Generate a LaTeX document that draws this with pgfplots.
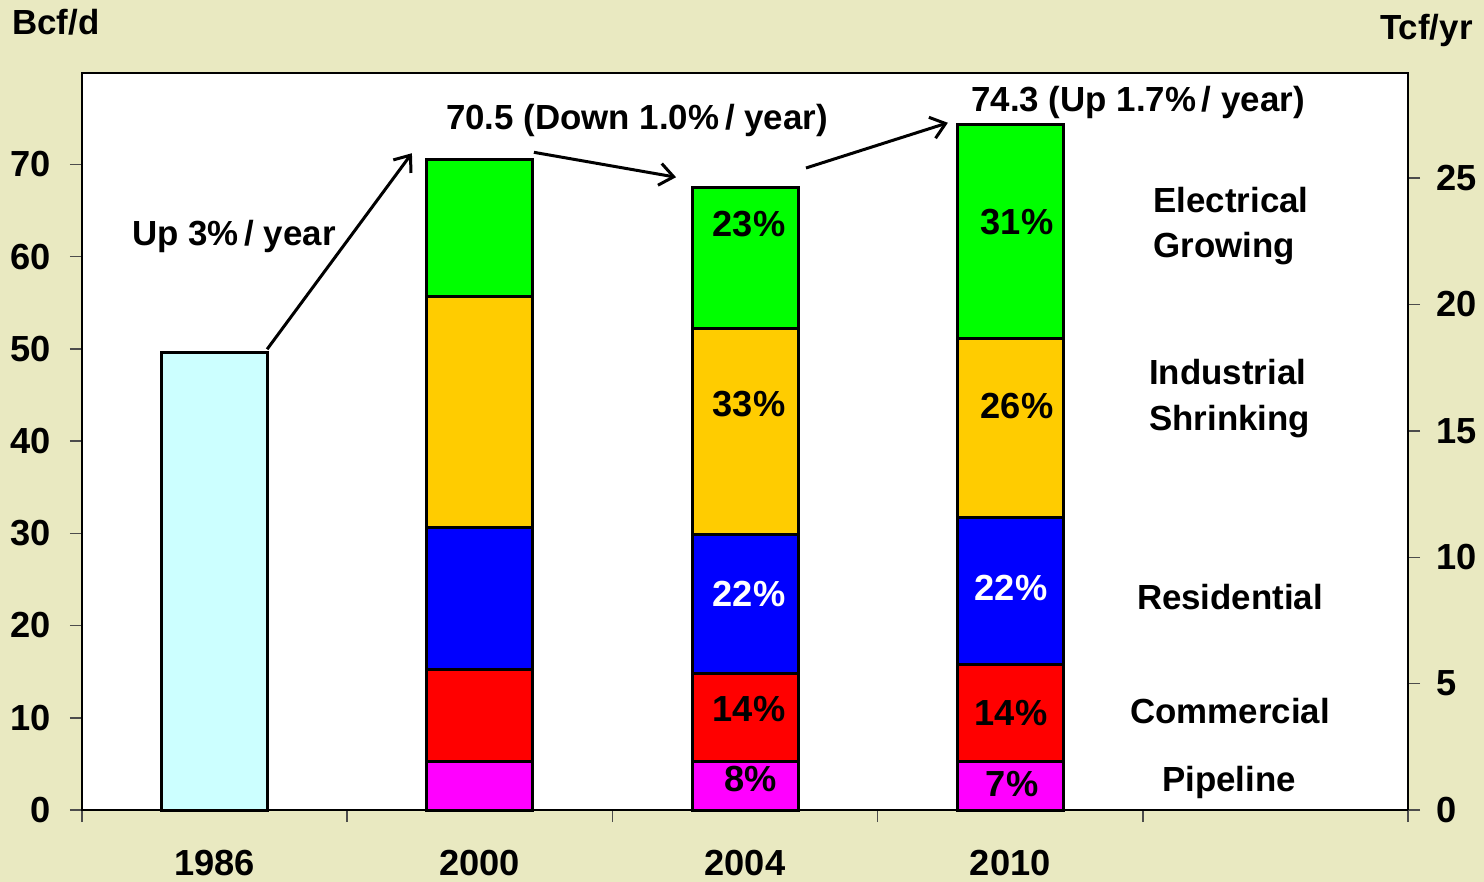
\documentclass[border=0pt]{standalone}
\usepackage{fontspec}
\setmainfont{Liberation Sans}
\usepackage{pgfplots}
\pgfplotsset{compat=1.18}
\usetikzlibrary{arrows.meta}
\definecolor{bgc}{RGB}{233,233,193}
\definecolor{c86}{RGB}{204,255,255}
\definecolor{cpipe}{RGB}{255,0,255}
\definecolor{ccom}{RGB}{255,0,0}
\definecolor{cres}{RGB}{0,0,255}
\definecolor{cind}{RGB}{255,204,0}
\definecolor{cele}{RGB}{0,255,0}
\newcommand\fs{\fontsize{17.5}{23}\selectfont\bfseries}
\newcommand\fsb{\fontsize{18.2}{23}\selectfont\bfseries}
\begin{document}
\begin{tikzpicture}
\fill[bgc] (-41bp,-36bp) rectangle (701bp,405bp);
\begin{axis}[at={(0,0)}, anchor=south west, scale only axis,
  width=663bp, height=368.5bp,
  xmin=0, xmax=5, ymin=0, ymax=79.9,
  axis background/.style={fill=white},
  ybar stacked, bar width=53bp,
  xtick={0,1,2,3,4,5}, xticklabels={},
  extra x ticks={0.5,1.5,2.5,3.5},
  extra x tick labels={1986,2000,2004,2010},
  extra x tick style={major tick length=0pt},
  ytick={0,10,...,70},
  xtick pos=bottom, ytick pos=left,
  tick align=outside, major tick length=6bp,
  tick style={black!70, line width=0.75bp},
  axis line style={black, line width=0.75bp},
  ticklabel style={font=\fsb},
  /pgf/number format/assume math mode=true,
  xticklabel style={yshift=-16.5bp},
  yticklabel style={xshift=-6bp},
  clip=false,
  every axis plot/.append style={draw=black, line width=1.5bp},
]
\addplot[fill=c86] coordinates {(0.5,49.6) (1.5,0) (2.5,0) (3.5,0)};
\addplot[fill=cpipe] coordinates {(0.5,0) (1.5,5.3) (2.5,5.3) (3.5,5.3)};
\addplot[fill=ccom] coordinates {(0.5,0) (1.5,9.9) (2.5,9.5) (3.5,10.5)};
\addplot[fill=cres] coordinates {(0.5,0) (1.5,15.4) (2.5,15.1) (3.5,15.9)};
\addplot[fill=cind] coordinates {(0.5,0) (1.5,25.1) (2.5,22.3) (3.5,19.4)};
\addplot[fill=cele] coordinates {(0.5,0) (1.5,14.8) (2.5,15.3) (3.5,23.2)};
\end{axis}
\begin{axis}[at={(0,0)}, anchor=south west, scale only axis,
  width=663bp, height=368.5bp,
  xmin=0, xmax=5, ymin=0, ymax=29.16,
  hide x axis, axis y line*=right,
  ytick={0,5,...,25},
  tick align=outside, major tick length=6bp,
  tick style={black!70, line width=0.75bp},
  axis line style={black, line width=0.75bp},
  ticklabel style={font=\fsb},
  yticklabel style={xshift=4.5bp},
  /pgf/number format/assume math mode=true,
]
\addplot[draw=none] coordinates {(0,0)};
\end{axis}
\begin{axis}[at={(0,0)}, anchor=south west, scale only axis,
  width=663bp, height=368.5bp,
  xmin=0, xmax=5, ymin=0, ymax=79.9,
  hide axis, clip=false,
]
\addplot[draw=none] coordinates {(0,0)};
\node[font=\fsb] at (axis cs:2.515,63.5) {23\%};
\node[font=\fsb] at (axis cs:2.515,44.0) {33\%};
\node[font=\fsb, text=white] at (axis cs:2.515,23.4) {22\%};
\node[font=\fsb] at (axis cs:2.515,10.9) {14\%};
\node[font=\fsb] at (axis cs:2.52,3.4) {8\%};
\node[font=\fsb] at (axis cs:3.526,63.7) {31\%};
\node[font=\fsb] at (axis cs:3.526,43.8) {26\%};
\node[font=\fsb, text=white] at (axis cs:3.503,24.1) {22\%};
\node[font=\fsb] at (axis cs:3.503,10.5) {14\%};
\node[font=\fsb] at (axis cs:3.507,2.8) {7\%};

\node[font=\fs, align=left, anchor=west, inner sep=0pt] at (axis cs:4.039,63.3) {Electrical\\Growing};
\node[font=\fs, align=left, anchor=west, inner sep=0pt] at (axis cs:4.023,44.6) {Industrial\\Shrinking};
\node[font=\fs] at (axis cs:4.329,23.1) {Residential};
\node[font=\fs] at (axis cs:4.329,10.7) {Commercial};
\node[font=\fs] at (axis cs:4.325,3.0) {Pipeline};

\node[font=\fs] at (axis cs:0.573,62.2) {Up 3\%\,/ year};
\node[font=\fs] at (axis cs:2.093,74.7) {70.5 (Down 1.0\%\,/ year)};
\node[font=\fs] at (axis cs:3.982,76.7) {74.3 (Up 1.7\%\,/ year)};

\draw[line width=1.5bp, -{Straight Barb[length=7bp,width=11bp]}] (axis cs:0.698,49.95) -- (axis cs:1.244,71.2);
\draw[line width=1.5bp, -{Straight Barb[length=7bp,width=11bp]}] (axis cs:1.704,71.3) -- (axis cs:2.240,68.6);
\draw[line width=1.5bp, -{Straight Barb[length=7bp,width=11bp]}] (axis cs:2.730,69.6) -- (axis cs:3.265,74.5);
\end{axis}
\node[font=\fs, anchor=west, inner sep=0pt] at (-35bp,394bp) {Bcf/d};
\node[font=\fs, anchor=east, inner sep=0pt] at (695.5bp,390bp) {Tcf/yr};
\pgfresetboundingbox
\path[use as bounding box] (-41bp,-36bp) rectangle (701bp,405bp);
\end{tikzpicture}
\end{document}
